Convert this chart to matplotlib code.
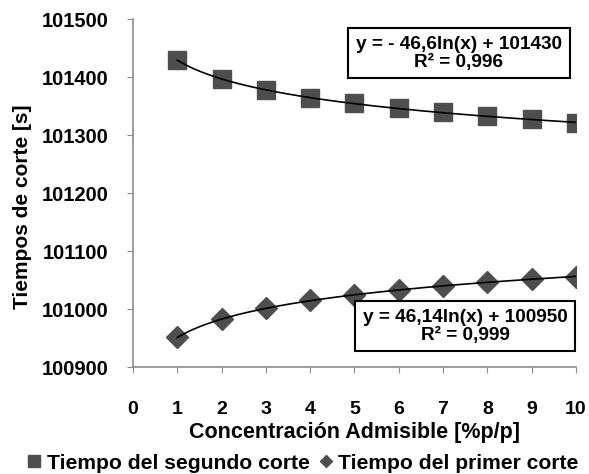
import matplotlib.pyplot as plt
import numpy as np
from matplotlib.lines import Line2D

plt.rcParams['font.family'] = ['Liberation Sans', 'DejaVu Sans']
plt.rcParams['font.weight'] = 'bold'

# data
concentracion = [1, 2, 3, 4, 5, 6, 7, 8, 9, 10]
segundo_corte = [101430, 101396, 101377, 101364, 101355, 101346, 101339, 101333, 101327, 101321]
primer_corte = [100951, 100982, 101001, 101015, 101025, 101033, 101040, 101046, 101051, 101056]
x_ticks = [0, 1, 2, 3, 4, 5, 6, 7, 8, 9, 10]
y_ticks = [100900, 101000, 101100, 101200, 101300, 101400, 101500]
eq_segundo = 'y = - 46,6ln(x) + 101430\nR² = 0,996'
eq_primer = 'y = 46,14ln(x) + 100950\nR² = 0,999'

marker_color = '#4e4e4e'
spine_color = '#8c8c8c'

fig = plt.figure(figsize=(5.89, 4.74), dpi=100)
ax = fig.add_axes([0.2258, 0.2257, 0.752, 0.734])

x = np.array(concentracion, dtype=float)
xs = np.linspace(1, 10, 200)

# logarithmic trendlines fitted to each series
for vals, mk, ms in [(segundo_corte, 's', 13.5), (primer_corte, 'D', 11)]:
    ax.plot(x, vals, linestyle='none', marker=mk, markersize=ms,
            color=marker_color, zorder=2)
    b, a = np.polyfit(np.log(x), vals, 1)
    ax.plot(xs, a + b * np.log(xs), color='black', lw=1.2, zorder=3)

ax.set_xlim(0, 10)
ax.set_ylim(100900, 101500)
ax.set_xticks(x_ticks)
ax.set_yticks(y_ticks)
ax.tick_params(axis='both', colors=spine_color, labelcolor='black',
               direction='out', length=4.5)
ax.tick_params(axis='x', pad=20, labelsize=14)
ax.tick_params(axis='y', pad=13, labelsize=14.5)
for lbl in ax.get_xticklabels() + ax.get_yticklabels():
    lbl.set_fontweight('bold')

for side in ['top', 'right']:
    ax.spines[side].set_visible(False)
for side in ['left', 'bottom']:
    ax.spines[side].set_color(spine_color)
    ax.spines[side].set_linewidth(1.2)

ax.set_xlabel('Concentración Admisible [%p/p]', fontsize=15.5,
              fontweight='bold', labelpad=3)
ax.set_ylabel('Tiempos de corte [s]', fontsize=15, fontweight='bold',
              family=['Liberation Sans Narrow', 'Liberation Sans'])
ax.yaxis.set_label_coords(-0.228, 0.46)

box = dict(boxstyle='square,pad=0.4', facecolor='white', edgecolor='black', lw=1.5)
ax.text(0.736, 0.902, eq_segundo, transform=ax.transAxes, ha='center',
        va='center', fontsize=13.7, fontweight='bold', linespacing=1.05, bbox=box)
ax.text(0.75, 0.117, eq_primer, transform=ax.transAxes, ha='center',
        va='center', fontsize=13.7, fontweight='bold', linespacing=1.05, bbox=box)

handles = [
    Line2D([], [], linestyle='none', marker='s', markersize=8, color=marker_color),
    Line2D([], [], linestyle='none', marker='D', markersize=6, color=marker_color),
]
fig.legend(handles, ['Tiempo del segundo corte', 'Tiempo del primer corte'],
           loc='lower center', bbox_to_anchor=(0.514, -0.037), ncol=2, frameon=False,
           handlelength=0.7, handletextpad=0.25, columnspacing=0.4,
           prop={'size': 15.2, 'weight': 'bold'})

fig.savefig('out.png', dpi=100)
